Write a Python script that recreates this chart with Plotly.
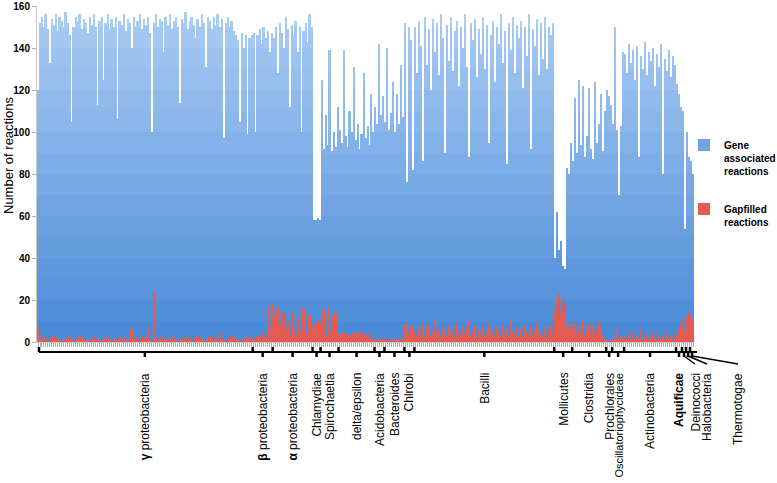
import plotly.graph_objects as go

# ---------------- data ----------------
group_labels = [
    "<b>γ</b> proteobacteria", "<b>β</b> proteobacteria", "<b>α</b> proteobacteria",
    "Chlamydiae", "Spirochaetia", "delta/epsilon", "Acidobacteria", "Bacteroides",
    "Chlrobi", "Bacilli", "Mollicutes", "Clostridia", "Prochlorales",
    "Oscillatoriophycideae", "Actinobacteria", "<b>Aquificae</b>", "Deinococci",
    "Halobacteria", "Thermotogae",
]

gamma_gene = [
    120, 152, 155, 150, 156, 149, 133, 154, 151, 156,
    148, 155, 153, 150, 157, 152, 146, 105, 150, 155,
    153, 156, 149, 154, 152, 147, 155, 151, 156, 150,
    113, 153, 155, 125, 152, 156, 149, 154, 150, 155,
    106, 153, 151, 156, 148, 154, 152, 140, 155, 150,
    153, 156, 149, 154, 151, 155, 147, 100, 152, 156,
    150, 154, 153, 138, 155, 151, 156, 149, 153, 155,
    150, 114, 154, 152, 157, 149, 153, 155, 151, 145,
    154, 150, 156, 152, 131, 155, 153, 149, 155, 151,
    156, 150, 154, 97, 152, 155, 150, 153, 148, 146,
    144, 105, 147, 140, 146, 99, 145, 146,
]
gamma_gap = [
    7, 2, 1, 3, 1, 0, 2, 1, 3, 1,
    2, 1, 0, 2, 1, 3, 1, 2, 1, 0,
    1, 3, 2, 1, 0, 2, 1, 1, 3, 1,
    2, 0, 1, 2, 1, 3, 1, 0, 2, 1,
    1, 2, 1, 3, 0, 1, 2, 6, 1, 0,
    2, 1, 3, 1, 2, 7, 1, 0, 24, 2,
    1, 3, 1, 0, 2, 1, 2, 1, 3, 1,
    0, 2, 1, 1, 2, 3, 1, 0, 2, 1,
    3, 1, 2, 1, 0, 2, 1, 3, 1, 2,
    1, 5, 2, 1, 0, 2, 1, 3, 1, 2,
    1, 0, 2, 1, 3, 1, 2, 1,
]
beta_gene = [147, 100, 146, 149, 142, 150, 145, 148, 138, 147]
beta_gap = [2, 1, 3, 2, 1, 4, 2, 17, 6, 18]
alpha_gene = [145, 150, 128, 152, 147, 140, 155, 149, 112, 151,
              146, 153, 138, 150, 100, 148, 152, 143, 156, 150]
alpha_gap = [12, 5, 16, 8, 3, 14, 6, 10, 4, 15,
             7, 3, 12, 5, 9, 16, 4, 8, 13, 6]
chlamydiae_gene = [58, 58, 59, 58]
chlamydiae_gap = [9, 9, 10, 9]
spirochaetia_gene = [125, 92, 108, 94, 139, 91, 100, 93, 112]
spirochaetia_gap = [4, 15, 3, 16, 5, 12, 3, 14, 4]
delta_gene = [101, 95, 139, 98, 93, 110, 100, 131, 96,
              104, 92, 99, 128, 97, 103, 94, 118, 100]
delta_gap = [4, 4, 5, 4, 4, 3, 4, 5, 4, 4, 4, 5, 4, 3, 4, 4, 2, 1]
acido_gene = [112, 104, 142, 108, 117]
acido_gap = [1, 2, 1, 1, 2]
bacteroides_gene = [105, 140, 101, 109, 124, 100, 118, 104, 132, 107]
bacteroides_gap = [1, 2, 1, 0, 2, 1, 2, 1, 1, 2]
chlorobi_gene = [152, 76, 150, 144, 82]
chlorobi_gap = [8, 9, 4, 7, 8]
bacilli_gene = [
    150, 128, 153, 141, 86, 155, 132, 149, 120, 154,
    138, 152, 127, 156, 145, 90, 151, 134, 155, 129,
    148, 153, 122, 150, 140, 156, 131, 88, 152, 144,
    154, 126, 149, 137, 155, 130, 151, 95, 146, 153,
    124, 150, 142, 156, 133, 148, 85, 152, 139, 155,
    128, 151, 145, 153, 121, 150, 136, 156, 92, 149,
    141, 154, 127, 152, 135, 155, 130, 150, 146, 152,
]
bacilli_gap = [
    5, 3, 7, 4, 9, 2, 6, 8, 3, 5,
    10, 4, 6, 2, 7, 5, 3, 8, 4, 6,
    2, 9, 5, 3, 7, 4, 6, 10, 3, 5,
    8, 2, 6, 4, 7, 3, 5, 9, 4, 6,
    3, 7, 5, 2, 8, 4, 6, 3, 10, 5,
    4, 7, 3, 6, 2, 8, 5, 4, 7, 3,
    6, 9, 4, 5, 3, 7, 2, 6, 8, 4,
]
mollicutes_gene = [40, 62, 44, 48, 36, 35, 83, 80, 95]
mollicutes_gap = [15, 20, 23, 14, 21, 18, 8, 6, 9]
clostridia_gene = [86, 116, 90, 125, 94, 122, 88, 98, 121,
                   92, 87, 124, 95, 104, 118, 91, 110]
clostridia_gap = [6, 9, 4, 8, 5, 10, 3, 7, 9, 5, 8, 4, 6, 10, 7, 3, 2]
prochlorales_gene = [120, 117, 113]
prochlorales_gap = [1, 0, 1]
oscill_gene = [104, 150, 101, 70, 103, 138]
oscill_gap = [1, 2, 6, 1, 3, 2]
actino_gene = [137, 128, 142, 133, 139, 125, 141, 88, 136, 130,
               143, 127, 138, 134, 140, 122, 137, 131, 142, 80,
               135, 129, 139, 126, 136, 132]
actino_gap = [3, 1, 4, 2, 5, 1, 3, 2, 6, 1,
              2, 4, 1, 3, 5, 2, 1, 4, 2, 3,
              1, 5, 2, 3, 1, 4]
aquificae_gene = [123, 118, 112]
aquificae_gap = [3, 6, 8]
deinococci_gene = [110, 54]
deinococci_gap = [10, 5]
halobacteria_gene = [100, 88]
halobacteria_gap = [12, 14]
thermotogae_gene = [86, 80]
thermotogae_gap = [14, 10]

y_ticks = [0, 20, 40, 60, 80, 100, 120, 140, 160]

groups_gene = [gamma_gene, beta_gene, alpha_gene, chlamydiae_gene, spirochaetia_gene,
               delta_gene, acido_gene, bacteroides_gene, chlorobi_gene, bacilli_gene,
               mollicutes_gene, clostridia_gene, prochlorales_gene, oscill_gene,
               actino_gene, aquificae_gene, deinococci_gene, halobacteria_gene,
               thermotogae_gene]
groups_gap = [gamma_gap, beta_gap, alpha_gap, chlamydiae_gap, spirochaetia_gap,
              delta_gap, acido_gap, bacteroides_gap, chlorobi_gap, bacilli_gap,
              mollicutes_gap, clostridia_gap, prochlorales_gap, oscill_gap,
              actino_gap, aquificae_gap, deinococci_gap, halobacteria_gap,
              thermotogae_gap]

# ---------------- styling / layout config ----------------
W, H = 777, 483
ML, MR, MT, MB = 37, 83, 6, 141
PW, PH = W - ML - MR, H - MT - MB
label_nudge_px = {"<b>Aquificae</b>": 0, "Deinococci": 11,
                  "Halobacteria": 19, "Thermotogae": 46}
label_size = {"Oscillatoriophycideae": 11}

gene, gap = [], []
for g, r in zip(groups_gene, groups_gap):
    r = (list(r) + [0] * len(g))[:len(g)]
    gene += g
    gap += r
n = len(gene)
xs = list(range(n))
ppu = PW / n  # pixels per category


def py(px):
    return (H - MB - px) / PH


def xp(idx, shift_px=0.0):
    """category index (axis units) -> paper x, with optional pixel shift"""
    return (idx + 0.5) / n + shift_px / PW


def band_color(v):
    lo = (72, 136, 214)
    hi = (172, 206, 244)
    t = max(0.0, min(1.0, v / 160))
    c = [round(a + (b - a) * t) for a, b in zip(lo, hi)]
    return "rgb(%d,%d,%d)" % tuple(c)


fig = go.Figure()
step = 10
for lo in range(0, 160, step):
    hi = lo + step
    seg = [max(0, min(v, hi) - lo) for v in gene]
    fig.add_trace(go.Bar(
        x=xs, y=seg, base=lo, marker_color=band_color(lo + step / 2),
        marker_line_width=0, name="Gene<br>associated<br>reactions",
        legendgroup="gene", showlegend=(lo == 60), hoverinfo="skip",
    ))
fig.add_trace(go.Bar(
    x=xs, y=gap, base=0, marker_color="#e45b52", marker_line_width=0,
    name="Gapfilled<br>reactions", legendgroup="gap", hoverinfo="skip",
))

# group brackets and labels
shapes, annotations = [], []
line_y = py(352)
shapes.append(dict(type="line", xref="paper", yref="paper", x0=xp(0, 1),
                   x1=xp(n - 1, 4), y0=line_y, y1=line_y,
                   line=dict(color="black", width=2)))
start = 0
for lab, g in zip(group_labels, groups_gene):
    end = start + len(g) - 1
    bx = xp(start - 0.5) if start > 0 else xp(0, 1)
    shapes.append(dict(type="line", xref="paper", yref="paper", x0=bx, x1=bx,
                       y0=py(347), y1=line_y, line=dict(color="black", width=2.5)))
    cx = (start + end) / 2
    shapes.append(dict(type="line", xref="paper", yref="paper", x0=xp(cx), x1=xp(cx),
                       y0=line_y, y1=py(357), line=dict(color="black", width=2.5)))
    nudge = label_nudge_px.get(lab, 0)
    if abs(nudge) > 5:
        shapes.append(dict(type="line", xref="paper", yref="paper", x0=xp(cx),
                           x1=xp(cx, nudge), y0=py(356), y1=py(364),
                           line=dict(color="black", width=1.5)))
    annotations.append(dict(
        text=lab, xref="paper", yref="paper", x=xp(cx, nudge), y=py(371),
        textangle=-90, xanchor="center", yanchor="top", showarrow=False,
        font=dict(family="Liberation Sans, Arial", size=label_size.get(lab, 12),
                  color="black"),
    ))
    start = end + 1

annotations.append(dict(
    text="Number of reactions", xref="paper", yref="paper",
    x=(8 - ML) / PW, y=py(155), textangle=-90, xanchor="center", yanchor="middle",
    showarrow=False, font=dict(family="Liberation Sans, Arial", size=13, color="black"),
))

fig.update_layout(
    width=W, height=H,
    margin=dict(l=ML, r=MR, t=MT, b=MB, autoexpand=False),
    barmode="overlay", bargap=0,
    plot_bgcolor="white", paper_bgcolor="white",
    shapes=shapes, annotations=annotations,
    legend=dict(
        x=(684 - ML) / PW, xanchor="left", y=py(132), yanchor="top",
        bgcolor="rgba(0,0,0,0)", traceorder="grouped", tracegroupgap=22,
        valign="top",
        font=dict(family="Liberation Sans, Arial", size=10, color="black", weight="bold"),
    ),
    xaxis=dict(range=[-0.5, n - 0.5], showticklabels=False, showgrid=False,
               zeroline=False, ticks="outside", tickmode="linear", tick0=0, dtick=1,
               ticklen=4, tickwidth=1, tickcolor="#b0b0b0",
               showline=True, linecolor="#c8c8c8", linewidth=1),
    yaxis=dict(range=[0, 160], tickvals=y_ticks, showgrid=False, zeroline=False,
               ticks="outside", ticklen=4, tickcolor="#b0b0b0",
               showline=True, linecolor="#c8c8c8", linewidth=1,
               ticklabeloverflow="allow",
               tickfont=dict(family="Liberation Sans, Arial", size=10, color="black",
                             weight="bold")),
)

fig.write_html("out.html", config={"displayModeBar": False},
               post_script="document.body.style.margin='0px';")
